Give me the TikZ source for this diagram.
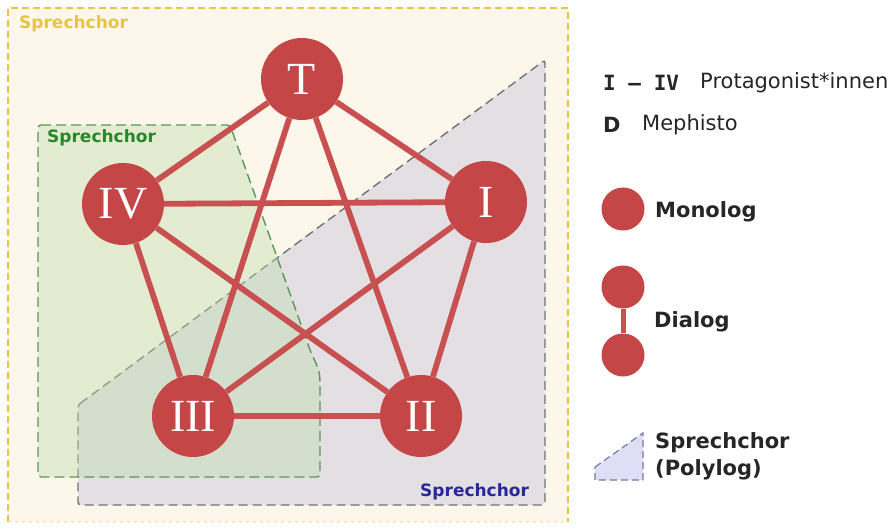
\documentclass[tikz,border=0pt]{standalone}
\usepackage{fontspec}
\setmainfont{DejaVu Sans}
\newfontfamily\romanfont{Liberation Serif}
\newfontfamily\keyfont{DejaVu Sans Mono}
\usetikzlibrary{calc}

\definecolor{figred}{RGB}{196,70,70}
\definecolor{edgered}{RGB}{200,80,80}
\definecolor{cream}{RGB}{253,247,235}
\definecolor{chorgold}{RGB}{232,196,70}
\definecolor{chorgreen}{RGB}{40,135,40}
\definecolor{chorblue}{RGB}{40,40,150}
\definecolor{dashgreen}{RGB}{90,150,90}
\definecolor{greenfill}{RGB}{192,222,175}
\definecolor{dashgray}{RGB}{110,115,115}
\definecolor{grayfill}{RGB}{202,200,218}
\definecolor{lavender}{RGB}{222,222,246}
\definecolor{dashlav}{RGB}{120,120,160}

\tikzset{
  figure/.style={circle, fill=figred, minimum size=82pt, inner sep=0pt, text=white,
    font=\romanfont\fontsize{46}{46}\selectfont},
  talk/.style={edgered, line width=5.8pt},
  chorlabel/.style={font=\bfseries\fontsize{17}{17}\selectfont, anchor=west, inner sep=0pt},
  legtext/.style={font=\fontsize{21}{21}\selectfont, anchor=west, inner sep=0pt, text=black!85},
  legbold/.style={legtext, font=\bfseries\fontsize{21}{21}\selectfont},
  dot/.style={circle, fill=figred, minimum size=43pt, inner sep=0pt},
}

\begin{document}
\begin{tikzpicture}[x=1pt, y=-1pt]
\useasboundingbox (0,0) rectangle (896,529);
% outer chorus
\fill[cream] (8,8) rectangle (568,522);
\draw[chorgold, line width=1.3pt, dash pattern=on 7pt off 4pt] (8,522) -- (8,8) -- (568,8) -- (568,522);
\draw[chorgold!35, line width=1.3pt, dash pattern=on 3pt off 4pt] (8,522) -- (568,522);
\node[chorlabel, text=chorgold] (goldchor) at (19,24) {Sprechchor};
% grey chorus
\draw[dashgray, line width=1.4pt, dash pattern=on 9pt off 5pt, fill=grayfill, fill opacity=0.5,
  rounded corners=3pt] (78,405) -- (545,60) -- (545,505) -- (78,505) -- cycle;
\node[chorlabel, text=chorblue] (bluechor) at (420,492) {Sprechchor};
% green chorus
\draw[dashgreen, line width=1.4pt, dash pattern=on 10pt off 5pt, fill=greenfill, fill opacity=0.42,
  rounded corners=3pt] (38,125) -- (230,125) -- (310,350) .. controls (320,372) .. (320,392)
  -- (320,477) -- (38,477) -- cycle;
\node[chorlabel, text=chorgreen] (greenchor) at (47,138) {Sprechchor};
% figures
\node[figure] (T) at (302,79) {T};
\node[figure] (IV) at (123,204) {IV};
\node[figure] (I) at (486,202) {I};
\node[figure] (III) at (193,416) {III};
\node[figure] (II) at (421,416) {II};
\foreach \a/\b in {T/IV, T/I, T/III, T/II, IV/I, IV/III, IV/II, I/III, I/II, III/II} {
  \draw[talk] (\a) -- (\b);
}
% legend
\node[legbold, font=\keyfont\bfseries\fontsize{21}{21}\selectfont] (rangekey) at (603,83) {I – IV};
\node[legtext] (rangetext) at (700,83) {Protagonist*innen};
\node[legbold] (dkey) at (603,125) {D};
\node[legtext] (dtext) at (642,125) {Mephisto};
\node[dot] (mono) at (623,209) {};
\node[legbold] (monotext) at (655,212) {Monolog};
\node[dot] (diaA) at (623,287) {};
\node[dot] (diaB) at (623,355) {};
\draw[talk, line width=5pt] (diaA) -- (diaB);
\node[legbold] (diatext) at (654,322) {Dialog};
\draw[dashlav, line width=1.2pt, dash pattern=on 7pt off 4pt, fill=lavender]
  (595,467) -- (643,433) -- (643,480) -- (595,480) -- cycle;
\node[legbold] (polytext) at (655,443) {Sprechchor};
\node[legbold] (polytextb) at (655,470) {(Polylog)};
\end{tikzpicture}
\end{document}
